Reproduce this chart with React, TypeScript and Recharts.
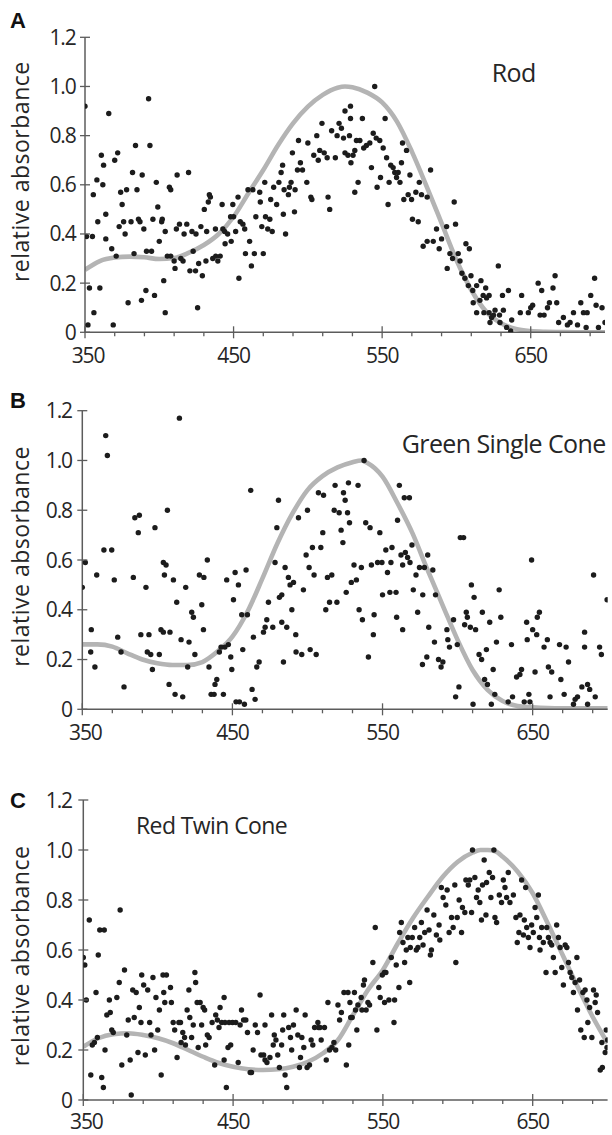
import React from 'react';
import { ComposedChart, Line, Scatter, XAxis, YAxis } from 'recharts';

const xTicks = [350, 370, 390, 410, 430, 450, 470, 490, 510, 530, 550, 570, 590, 610, 630, 650, 670, 690];
const xMajorTicks = [350, 450, 550, 650];
const yTicks = [0, 0.2, 0.4, 0.6, 0.8, 1.0, 1.2];
const yTickLabels = ['0', '0.2', '0.4', '0.6', '0.8', '1.0', '1.2'];
const panelLetters = ['A', 'B', 'C'];
const panelTitles = ['Rod', 'Green Single Cone', 'Red Twin Cone'];
const yAxisTitle = 'relative absorbance';

const rodPoints: [number, number][] = [
  [350,0.92],[351,0.39],[355,0.39],[355.6,0.56],[358,0.62],[353,0.18],[360,0.18],[356,0.08],[352,0.03],[358.6,0.45],[361,0.72],[362.5,0.68],[362,0.60],[364,0.48],[364,0.38],[366,0.89],[368,0.34],[369,0.03],[370,0.70],[372,0.73],[371,0.31],[374,0.57],[373,0.43],[375,0.52],[376,0.45],[377,0.40],[378,0.58],[379,0.12],[381,0.45],[382,0.65],[383,0.32],[384,0.76],[385,0.58],[386,0.46],[387,0.45],[388,0.13],[388.5,0.64],[389.6,0.42],[391,0.17],[391.4,0.33],[392.8,0.95],[393.7,0.76],[394.8,0.33],[395.7,0.46],[396.8,0.15],[398,0.61],[399,0.51],[400,0.37],[401.6,0.45],[402,0.46],[403,0.21],[404,0.41],[404,0.08],[405.4,0.31],[406.8,0.59],[407.7,0.58],[407.7,0.31],[410,0.29],[410.6,0.26],[411.5,0.42],[412,0.64],[413.6,0.44],[414.5,0.30],[416,0.29],[416.7,0.40],[418.5,0.44],[419.7,0.65],[420.6,0.25],[422,0.41],[422.8,0.33],[424.4,0.25],[424.7,0.40],[425.8,0.10],[426.5,0.28],[428,0.43],[429,0.23],[430.3,0.50],[431.4,0.29],[431.9,0.41],[433,0.53],[433.7,0.56],[434.4,0.55],[436,0.30],[437.8,0.42],[438,0.31],[439.4,0.29],[441,0.31],[442.3,0.52],[442.8,0.42],[444,0.41],[444.3,0.36],[446,0.40],[448,0.47],[448.4,0.37],[449.5,0.52],[450,0.47],[451.4,0.41],[453,0.55],[453.6,0.22],[454.5,0.45],[456.3,0.44],[457.5,0.42],[458,0.32],[459.7,0.58],[460.8,0.37],[462,0.27],[463,0.58],[464,0.32],[465,0.47],[467.6,0.57],[468,0.53],[469,0.43],[470,0.32],[471,0.61],[471.5,0.47],[473,0.42],[474.4,0.46],[475,0.54],[476,0.41],[477,0.59],[479,0.52],[480.5,0.61],[482,0.65],[483,0.68],[483.5,0.48],[484,0.58],[485,0.40],[486.9,0.56],[487.6,0.59],[488.7,0.61],[489.6,0.73],[491,0.49],[491.4,0.58],[493,0.66],[493.7,0.78],[495,0.69],[496.4,0.66],[499.3,0.61],[500,0.77],[502,0.55],[502.7,0.54],[504,0.72],[506,0.80],[507,0.70],[508,0.74],[509.5,0.85],[511,0.73],[513,0.71],[513.6,0.55],[514.7,0.50],[516,0.82],[518.5,0.71],[519.7,0.80],[521,0.85],[522.6,0.83],[524,0.79],[525,0.90],[525,0.73],[527,0.72],[528.7,0.92],[528,0.80],[528.7,0.87],
  [545,1.00],[536.7,0.87],[532.7,0.78],[535,0.78],[530.4,0.72],[529,0.69],[531.6,0.74],[537.6,0.75],[539.4,0.76],[541.7,0.77],[544,0.81],[546,0.79],[548.4,0.78],[550.7,0.75],[542.8,0.67],[533.8,0.61],[531.6,0.57],[546.6,0.59],[548.9,0.63],[552,0.87],[553,0.71],[554.7,0.61],[554,0.52],[555.8,0.68],[557.4,0.67],[558.5,0.65],[559.7,0.63],[560.8,0.65],[562,0.61],[563,0.69],[563.7,0.77],[566.4,0.74],[564.6,0.54],[567.5,0.56],[568.7,0.64],[569.8,0.54],[572.7,0.57],[575,0.61],[576.5,0.56],[580.3,0.55],[570.4,0.46],[574.3,0.45],[582.6,0.66],[577.6,0.35],[580.3,0.37],[584.4,0.37],[586.6,0.42],[588.4,0.34],[590,0.38],[593.4,0.43],[593.8,0.26],[595.6,0.32],[597.4,0.30],[598.5,0.53],[599.4,0.44],[601.2,0.32],[602.4,0.29],[603.7,0.24],[605.7,0.22],[606.4,0.36],[608.7,0.34],[609.8,0.23],[608,0.19],[611,0.17],[613.6,0.19],[616.5,0.21],[611.3,0.12],[613.6,0.08],[615.8,0.13],[618,0.15],[619.7,0.18],[620.3,0.14],[622,0.15],[618.5,0.08],[622,0.08],[626,0.09],[623.7,0.06],[625,0.07],[628.2,0.27],[629,0.07],[631.6,0.09],[631,0.15],[622.6,0.04],[629.3,0.04],[633.8,0.02],[635,0.17],[636.5,0.005],[637.2,0.05],[643,0.08],[643.9,0.15],[648.4,0.08],[650,0.10],[651.3,0.11],[655,0.20],[657.4,0.17],[656.3,0.07],[659,0.07],[661.3,0.10],[662.6,0.12],[665,0.18],[666.4,0.23],[667.5,0.12],[668.8,0.04],[672,0.06],[674.7,0.03],[676.5,0.04],[678.8,0.08],[681.5,0.03],[683.7,0.12],[685.5,0.08],[687.3,0.02],[690.4,0.15],[693,0.22],[694,0.11],[695.6,0.02],[698,0.10],[700,0.04],[688,0.08],
];

const greenPoints: [number, number][] = [
  [350,0.49],[352,0.59],[355.6,0.23],[356,0.32],[358.4,0.17],[359.6,0.54],[364.4,0.64],[369.6,0.64],[365.6,1.1],[366.7,1.02],[371.3,0.52],[373.6,0.29],[375.8,0.23],[377.8,0.09],[384,0.53],[385,0.77],[388,0.78],[387.3,0.71],[389,0.3],[392.4,0.49],[393.3,0.23],[394.4,0.3],[395.6,0.22],[396.7,0.16],[398.4,0.73],[401.3,0.22],[402.4,0.32],[404,0.31],[404,0.59],[405.8,0.58],[404.7,0.54],[406.7,0.8],[408.4,0.31],[407.8,0.1],[410.7,0.52],[411.8,0.06],[412.9,0.43],[414.7,1.17],[415.8,0.28],[416.9,0.05],[418.9,0.49],[420.2,0.17],[421.1,0.27],[422.9,0.39],[424,0.37],[425,0.22],[428,0.54],[431,0.53],[429.6,0.42],[430.7,0.32],[433.3,0.6],[434.4,0.17],[435.8,0.06],[437.8,0.06],[438.4,0.1],[439.6,0.12],[441.3,0.23],[442.4,0.25],[444,0.06],[445,0.25],[446.2,0.52],[447.3,0.26],[448.9,0.21],[449.6,0.16],[450.7,0.44],[451.8,0.55],[452.4,0.03],[454,0.5],[454.7,0.03],[456.2,0.38],[456.9,0.24],[458,0.02],[459.1,0.56],[460,0.38],[462.2,0.88],[463.1,0.08],[464,0.29],[465.1,0.04],[466.2,0.17],[467.8,0.19],[470.7,0.31],[471.8,0.33],[472.9,0.36],[474,0.43],[476.9,0.33],[478.4,0.59],[479.6,0.73],[480.7,0.84],[481.3,0.45],[482.9,0.46],[482.9,0.35],[484,0.19],[485.1,0.57],[486.2,0.33],[487.3,0.53],[488.4,0.5],[490.7,0.51],[489.6,0.4],[492.2,0.3],[492.4,0.23],[494,0.77],[496.2,0.22],[497.3,0.48],[499.1,0.62],[500,0.8],[501.1,0.57],[501.8,0.24],[503.3,0.65],[504.4,0.54],[505.8,0.22],[507.3,0.87],[508.9,0.65],[510.2,0.71],[510.7,0.86],[512.2,0.4],[513.3,0.53],[514.7,0.43],[516.2,0.54],[517.8,0.8],[518.4,0.9],[519.6,0.43],[521.1,0.79],[522.4,0.72],[523.6,0.67],[524,0.87],[525.1,0.84],[525.8,0.47],[526.7,0.79],[527.3,0.91],[528,0.75],
  [537.7,1.0],[533.7,0.9],[538.8,0.75],[541.7,0.73],[548.2,0.71],[531,0.58],[535.9,0.57],[529.2,0.51],[532.6,0.52],[542.6,0.58],[546.7,0.59],[549.6,0.59],[552.2,0.64],[556.3,0.65],[553.3,0.55],[555.6,0.59],[550,0.46],[554.9,0.47],[559,0.47],[560,0.76],[561.2,0.9],[564.5,0.85],[567.9,0.85],[562.3,0.62],[565.2,0.63],[563.4,0.58],[566.7,0.61],[568.3,0.59],[569.6,0.66],[572.3,0.54],[574.6,0.57],[577.9,0.57],[580.1,0.62],[583.5,0.56],[570.5,0.48],[573.4,0.39],[576.8,0.46],[559.4,0.37],[534.4,0.4],[536.6,0.36],[544.4,0.38],[543.9,0.3],[540.6,0.21],[563.4,0.32],[580.8,0.33],[584.6,0.27],[585.3,0.46],[576.6,0.18],[579.5,0.21],[587.3,0.2],[590.2,0.19],[589,0.17],[592.9,0.32],[593.5,0.28],[594.6,0.25],[597.3,0.36],[599.8,0.26],[601.8,0.69],[604,0.69],[600.9,0.09],[598.7,0.05],[604.7,0.34],[605.8,0.39],[606.5,0.37],[608.5,0.33],[612,0.32],[609.2,0.5],[611,0.45],[610.3,0.02],[614.3,0.22],[616,0.2],[616.5,0.39],[619.2,0.24],[618,0.12],[619.9,0.1],[621.4,0.35],[622.5,0.02],[623.7,0.16],[624.8,0.06],[625.9,0.27],[627.7,0.48],[628.8,0.37],[633.7,0.03],[635.9,0.26],[636.6,0.05],[639.3,0.13],[641.5,0.14],[642.6,0.16],[644.4,0.03],[646,0.35],[646.4,0.28],[647.5,0.06],[648.2,0.03],[649.3,0.6],[650,0.32],[651.6,0.15],[652.7,0.3],[653.1,0.37],[654.5,0.39],[657.6,0.25],[659.8,0.28],[660.5,0.17],[662.7,0.15],[661.6,0.05],[667.9,0.26],[668.8,0.12],[671,0.06],[672.3,0.25],[673.9,0.19],[677.2,0.02],[678.3,0.04],[679.9,0.05],[682.8,0.09],[684.6,0.25],[684.6,0.31],[686.6,0.1],[688,0.08],[686.6,0.02],[690.6,0.54],[691.7,0.05],[694.6,0.25],[695.8,0.22],[699.6,0.44],
];

const redPoints: [number, number][] = [
  [350,0.57],[351,0.54],[352,0.4],[354,0.72],[355,0.1],[356,0.22],[357.4,0.23],[358.5,0.43],[359.4,0.25],[360,0.58],[361,0.68],[364,0.68],[362.3,0.09],[363.4,0.05],[364.5,0.2],[365.7,0.34],[368,0.35],[367.4,0.4],[369,0.28],[370,0.27],[372.4,0.41],[374,0.47],[374.6,0.76],[375.7,0.14],[377.5,0.52],[379,0.26],[380,0.32],[381.3,0.16],[382,0.02],[383,0.44],[385.3,0.43],[384,0.33],[386.5,0.19],[387.4,0.37],[388.5,0.31],[389,0.5],[390.3,0.46],[393,0.44],[391.4,0.18],[394.3,0.31],[395.2,0.26],[396.5,0.49],[397.6,0.2],[398.5,0.41],[399.7,0.28],[400.8,0.36],[402,0.1],[403.2,0.5],[405.5,0.5],[403.7,0.43],[404.4,0.39],[408.2,0.45],[408.8,0.39],[410,0.31],[411,0.28],[412.6,0.17],[413.8,0.31],[414.9,0.31],[415.3,0.23],[416.4,0.27],[417.6,0.25],[418.2,0.22],[419.3,0.36],[420.5,0.44],[421.1,0.33],[422.3,0.25],[423.4,0.3],[424.5,0.51],[425,0.47],[426,0.39],[428,0.39],[426.7,0.21],[429,0.3],[430,0.37],[431,0.36],[431.7,0.22],[432.8,0.26],[434,0.25],[436,0.31],[437.7,0.14],[438.4,0.34],[439.5,0.32],[440.6,0.29],[441.3,0.37],[442.4,0.31],[444,0.41],[444,0.16],[444.6,0.31],[445.5,0.05],[446.6,0.21],[447.3,0.31],[448.4,0.22],[449.6,0.31],[451.8,0.31],[453.4,0.15],[454.7,0.3],[455.6,0.36],[457,0.32],[458.5,0.32],[459.6,0.27],[461.4,0.11],[462.3,0.11],[463.4,0.2],[464.8,0.3],[466.3,0.27],[468,0.42],[468.6,0.18],[470.4,0.18],[471.3,0.3],[471.3,0.16],[472.6,0.15],[474.6,0.17],[475.7,0.34],[476.8,0.22],[477.5,0.26],[478.6,0.24],[479.8,0.18],[480.9,0.13],[482.4,0.22],[483.1,0.28],[483.8,0.34],[484.7,0.1],[485.8,0.05],[487.1,0.29],[488.3,0.25],[489.1,0.2],[490.3,0.3],[492.1,0.36],[493.2,0.26],[494.3,0.13],[495,0.17],[495.9,0.25],[497.2,0.21],[498.1,0.34],[499.4,0.13],[501,0.14],[502.1,0.24],[503.2,0.22],[504.4,0.29],[506.6,0.31],[507,0.29],[508,0.29],[511,0.29],[508.8,0.24],[512.2,0.16],[513.3,0.39],[514.4,0.2],[516,0.21],[517.3,0.23],[518.5,0.2],[520,0.38],[521.1,0.32],[522.3,0.35],[524,0.43],[526.7,0.43],[525.6,0.14],[527.2,0.22],[528,0.39],[528.5,0.33],
  [531,0.43],[529.5,0.33],[531.7,0.36],[533.3,0.38],[535.5,0.41],[532.6,0.28],[537,0.46],[537.7,0.48],[536,0.36],[538.8,0.36],[540,0.39],[541.1,0.38],[543.3,0.55],[544.9,0.69],[546,0.28],[547.3,0.45],[548.2,0.41],[549.6,0.5],[551,0.51],[552,0.51],[551.1,0.39],[554,0.4],[557.8,0.4],[555.6,0.57],[557.4,0.31],[558.9,0.54],[560.7,0.45],[561.2,0.67],[562.3,0.71],[563.4,0.63],[564.5,0.55],[565.6,0.6],[566.7,0.65],[567.9,0.47],[568.3,0.61],[569.6,0.65],[571.2,0.69],[572.3,0.6],[573.4,0.61],[574.6,0.65],[575.7,0.71],[576.8,0.62],[577.9,0.67],[579.5,0.76],[580.8,0.68],[581.7,0.58],[582.4,0.6],[584,0.74],[585.7,0.66],[587.5,0.7],[588,0.64],[589,0.85],[590.2,0.81],[592,0.78],[592.9,0.84],[594.2,0.67],[595.8,0.73],[596.9,0.69],[598,0.86],[598.7,0.55],[599.6,0.73],[600.9,0.8],[602.5,0.67],[603.1,0.77],[604.7,0.75],[605.4,0.88],[607,0.86],[608,0.88],[609.2,0.75],[609.8,1.0],[611.4,0.89],[612.5,0.81],[613.6,0.84],[614.7,0.79],[615.8,0.72],[616.5,0.86],[617.6,0.96],[618.8,0.74],[619.2,0.87],[621,0.91],[622.1,0.81],[623.2,0.89],[624.1,1.0],[624.8,0.73],[625.9,0.71],[627.7,0.82],[629.2,0.79],[630.4,0.88],[631.5,0.85],[632.6,0.81],[633.7,0.91],[634.8,0.79],[637.1,0.82],[638.8,0.73],[639.7,0.63],[640.8,0.67],[641.5,0.74],[642.6,0.88],[643.8,0.66],[644.4,0.72],[645.3,0.85],[646,0.69],[647.1,0.65],[648.2,0.61],[649.3,0.7],[650.4,0.67],[651.6,0.77],[652.7,0.73],[653.8,0.82],[654.5,0.65],[654.9,0.6],[656,0.69],[657.1,0.63],[658.9,0.51],[659.4,0.69],[660.5,0.65],[661.6,0.63],[662.7,0.62],[663.8,0.57],[665,0.51],[666,0.7],[667.2,0.65],[668.3,0.61],[669.4,0.53],[670.5,0.46],[671.7,0.62],[672.8,0.61],[673.9,0.55],[675,0.51],[676.1,0.49],[677.2,0.43],[678.3,0.47],[679.5,0.57],[679.9,0.36],[681.3,0.48],[682.1,0.28],[683.5,0.43],[684.4,0.25],[685,0.44],[686.2,0.4],[686.8,0.31],[688,0.37],[689.5,0.25],[690.6,0.44],[691.7,0.39],[692.4,0.42],[693.3,0.35],[695.1,0.12],[696.5,0.13],[696.2,0.23],[698.4,0.19],[699.1,0.28],[699.6,0.21],[700,0.24],
];

const rodCurve: [number, number][] = [
  [350,0.254],[360,0.29],[370,0.304],[380,0.308],[390,0.305],[400,0.298],[410,0.302],[420,0.324],[430,0.355],[440,0.40],[450,0.47],[460,0.566],[470,0.66],[480,0.762],[490,0.85],[500,0.918],[510,0.966],[520,0.995],[525,1.0],[530,0.997],[540,0.975],[550,0.935],[560,0.857],[570,0.735],[580,0.593],[590,0.444],[600,0.294],[610,0.172],[620,0.084],[630,0.037],[640,0.014],[650,0.005],[660,0.002],[670,0.001],[680,0],[690,0],[700,0],
];
const greenCurve: [number, number][] = [
  [350,0.261],[360,0.261],[370,0.252],[380,0.225],[390,0.2],[400,0.185],[410,0.178],[420,0.178],[430,0.19],[440,0.232],[450,0.292],[460,0.392],[470,0.526],[480,0.667],[490,0.787],[500,0.881],[510,0.937],[520,0.972],[530,0.993],[536,1.0],[540,0.99],[550,0.935],[560,0.828],[570,0.707],[580,0.56],[590,0.419],[600,0.279],[610,0.158],[620,0.078],[630,0.033],[640,0.013],[650,0.008],[660,0.005],[670,0.004],[680,0.004],[690,0.004],[700,0.004],
];
const redCurve: [number, number][] = [
  [350,0.213],[360,0.247],[370,0.263],[380,0.267],[390,0.26],[400,0.247],[410,0.227],[420,0.2],[430,0.173],[440,0.149],[450,0.133],[460,0.123],[470,0.12],[480,0.123],[490,0.133],[500,0.153],[510,0.187],[520,0.24],[530,0.34],[540,0.44],[550,0.52],[560,0.627],[570,0.727],[580,0.813],[590,0.893],[600,0.953],[610,0.99],[615,1.0],[620,1.0],[625,0.995],[630,0.973],[640,0.913],[650,0.827],[660,0.707],[670,0.58],[680,0.453],[690,0.333],[700,0.227],
];

const AXIS = '#5c5c5c';
const TEXT = '#262626';
const TICK_FONT = '"Open Sans", "Noto Sans", sans-serif';

const makeXTick = (labelOffset: number) => (props: any) => {
  const { x, y, payload } = props;
  const v = payload.value;
  const major = xMajorTicks.includes(v);
  const shift = v === 350 ? 3 : 0;
  return (
    <g>
      <line x1={x} x2={x} y1={major ? y - 6 : y} y2={major ? y + 6 : y + 4} stroke={AXIS} strokeWidth={1.3} />
      {major && (
        <text x={x + shift} y={y + labelOffset} textAnchor="middle" fontFamily={TICK_FONT} fontSize={21} letterSpacing={-1.2} fill={TEXT}>
          {v}
        </text>
      )}
    </g>
  );
};

const makeYTick = (gap: number) => (props: any) => {
  const { x, y, payload } = props;
  const idx = yTicks.findIndex((t) => Math.abs(t - payload.value) < 1e-6);
  return (
    <g>
      <line x1={x - 5} x2={x + 5} y1={y} y2={y} stroke={AXIS} strokeWidth={1.3} />
      <text x={x - gap} y={y + 7.5} textAnchor="end" fontFamily={TICK_FONT} fontSize={21} letterSpacing={-1.2} fill={TEXT}>
        {idx >= 0 ? yTickLabels[idx] : payload.value}
      </text>
    </g>
  );
};

const dotShape = (props: any) => <circle cx={props.cx} cy={props.cy} r={2.7} fill="#1c1c1c" />;

type PanelProps = {
  top: number;
  height: number;
  plotTop: number;
  plotBottom: number;
  plotLeft: number;
  plotRight: number;
  labelOffset: number;
  yGap: number;
  points: [number, number][];
  curve: [number, number][];
};

function Panel({ top, height, plotTop, plotBottom, plotLeft, plotRight, labelOffset, yGap, points, curve }: PanelProps) {
  const pts = points.map(([x, y]) => ({ x, y }));
  const crv = curve.map(([x, y]) => ({ x, y }));
  const xAxisH = 30;
  const XTickC = makeXTick(labelOffset);
  const YTickC = makeYTick(yGap);
  return (
    <div style={{ position: 'absolute', left: 0, top, width: 612, height }}>
      <ComposedChart
        width={612}
        height={height}
        margin={{ top: plotTop - top, right: 612 - plotRight, bottom: height - (plotBottom - top) - xAxisH, left: 0 }}
      >
        <XAxis
          type="number"
          dataKey="x"
          domain={[350, 700]}
          ticks={xTicks}
          interval={0}
          allowDataOverflow
          height={xAxisH}
          tickSize={0}
          tickMargin={0}
          tickLine={false}
          axisLine={{ stroke: AXIS, strokeWidth: 1.5 }}
          tick={<XTickC />}
        />
        <YAxis
          type="number"
          dataKey="y"
          domain={[0, 1.2]}
          ticks={yTicks}
          interval={0}
          allowDataOverflow
          width={plotLeft}
          tickSize={0}
          tickMargin={0}
          tickLine={false}
          axisLine={{ stroke: AXIS, strokeWidth: 1.5 }}
          tick={<YTickC />}
        />
        <Line
          data={crv}
          dataKey="y"
          type="monotone"
          stroke="#b4b4b4"
          strokeWidth={4.6}
          dot={false}
          activeDot={false}
          isAnimationActive={false}
        />
        <Scatter data={pts} dataKey="y" shape={dotShape} isAnimationActive={false} />
      </ComposedChart>
    </div>
  );
}

const panels = [
  { top: 0, height: 380, plotTop: 37.3, plotBottom: 332.3, plotLeft: 85, plotRight: 605, labelOffset: 31, yGap: 9.5, points: rodPoints, curve: rodCurve },
  { top: 380, height: 380, plotTop: 410.7, plotBottom: 709.3, plotLeft: 82.3, plotRight: 607.7, labelOffset: 31, yGap: 10.5, points: greenPoints, curve: greenCurve },
  { top: 760, height: 375, plotTop: 800, plotBottom: 1100, plotLeft: 83.3, plotRight: 607.6, labelOffset: 28.5, yGap: 11.5, points: redPoints, curve: redCurve },
];

const letterPos = [
  { x: 10, y: 28 },
  { x: 10, y: 408 },
  { x: 10, y: 808 },
];
const titlePos = [
  { x: 491.7, y: 82.3, size: 25 },
  { x: 401.7, y: 452.7, size: 25 },
  { x: 136, y: 834.3, size: 23 },
];
const yTitleCenter = [171.7, 556.5, 956];

export default function App() {
  return (
    <div style={{ position: 'absolute', left: 0, top: 0, width: 612, height: 1135, background: '#fff', overflow: 'hidden' }}>
      {panels.map((p, i) => (
        <Panel key={i} {...p} />
      ))}
      <svg width={612} height={1135} style={{ position: 'absolute', left: 0, top: 0, pointerEvents: 'none' }}>
        {panelLetters.map((l, i) => (
          <text key={'l' + i} x={letterPos[i].x} y={letterPos[i].y} fontFamily='"Liberation Sans", Arial, sans-serif' fontWeight="bold" fontSize={22} fill="#111">
            {l}
          </text>
        ))}
        {panelTitles.map((t, i) => (
          <text key={'t' + i} x={titlePos[i].x} y={titlePos[i].y} fontFamily={TICK_FONT} fontSize={titlePos[i].size} letterSpacing={-0.6} fill={TEXT}>
            {t}
          </text>
        ))}
        {yTitleCenter.map((c, i) => (
          <text
            key={'y' + i}
            x={29}
            y={c}
            transform={`rotate(-90, 29, ${c})`}
            textAnchor="middle"
            fontFamily={TICK_FONT}
            fontSize={23}
            letterSpacing={0.5}
            fill={TEXT}
          >
            {yAxisTitle}
          </text>
        ))}
      </svg>
    </div>
  );
}
